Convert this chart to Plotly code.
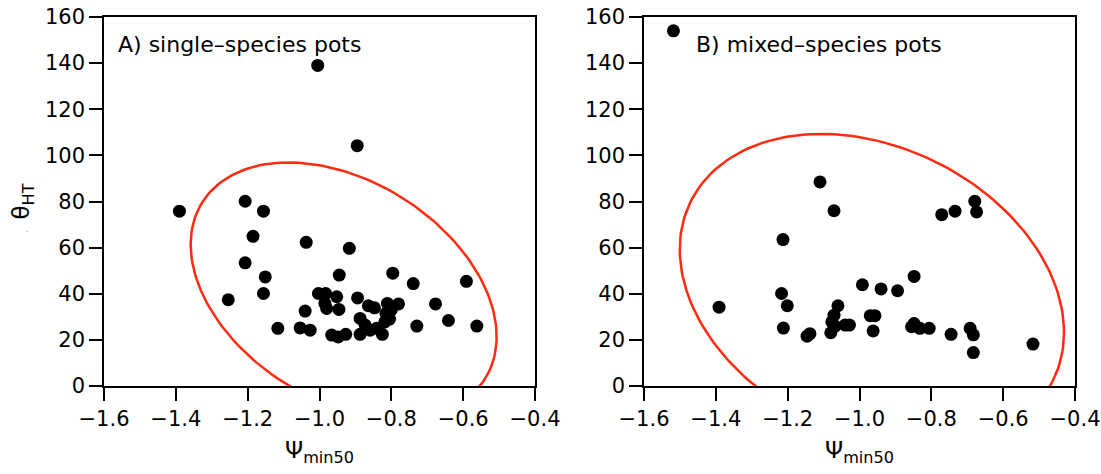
import numpy as np
import plotly.graph_objects as go
from plotly.subplots import make_subplots

# ---- data ----
single_psi = [-1.005, -0.895, -1.390, -1.207, -1.156, -1.185, -1.037, -0.917, -1.207, -1.151,
              -0.945, -0.796, -0.739, -0.591, -1.254, -1.156, -0.677, -0.641, -0.562, -0.729,
              -1.116, -1.054, -1.026, -1.003, -0.983, -0.952, -0.985, -0.980, -0.946, -1.040,
              -0.966, -0.948, -0.927, -0.894, -0.864, -0.847, -0.811, -0.780, -0.887, -0.873,
              -0.887, -0.859, -0.841, -0.825, -0.818, -0.805, -0.800, -0.815]
single_theta = [139.0, 104.2, 75.8, 80.1, 75.8, 64.9, 62.3, 59.7, 53.4, 47.3,
                48.1, 48.9, 44.4, 45.4, 37.4, 40.1, 35.6, 28.4, 26.0, 26.0,
                25.0, 25.2, 24.2, 40.1, 40.1, 38.7, 35.8, 33.6, 33.2, 32.5,
                22.1, 21.3, 22.4, 38.2, 34.8, 33.9, 35.8, 35.6, 29.3, 26.4,
                22.4, 24.2, 25.0, 22.4, 27.8, 29.0, 33.0, 31.5]

mixed_psi = [-1.518, -1.110, -1.071, -1.213, -0.771, -0.734, -0.679, -0.674, -0.848, -0.992,
             -0.940, -0.894, -1.217, -1.201, -1.391, -1.212, -1.146, -1.138, -1.080, -1.077,
             -1.071, -1.060, -1.068, -1.040, -1.028, -0.970, -0.957, -0.962, -0.855, -0.848,
             -0.832, -0.806, -0.745, -0.692, -0.683, -0.683, -0.517]
mixed_theta = [154.0, 88.5, 76.0, 63.5, 74.3, 75.8, 80.1, 75.5, 47.5, 43.9,
               42.1, 41.3, 40.1, 34.8, 34.2, 25.1, 21.6, 22.7, 23.1, 27.8,
               30.7, 34.8, 26.0, 26.4, 26.4, 30.5, 30.5, 23.9, 25.7, 27.1,
               25.0, 25.0, 22.4, 25.0, 22.2, 14.5, 18.2]

panel_titles = ["A) single–species pots", "B) mixed–species pots"]
x_ticks = [-1.6, -1.4, -1.2, -1.0, -0.8, -0.6, -0.4]
y_ticks = [0, 20, 40, 60, 80, 100, 120, 140, 160]
CHI2_95 = 5.991  # 95% density ellipse


def density_ellipse(x, y, n=200):
    x = np.asarray(x); y = np.asarray(y)
    mu = np.array([x.mean(), y.mean()])
    cov = np.cov(np.vstack([x, y]))
    vals, vecs = np.linalg.eigh(cov)
    t = np.linspace(0, 2 * np.pi, n)
    circ = np.vstack([np.cos(t), np.sin(t)])
    pts = vecs @ (np.sqrt(vals * CHI2_95)[:, None] * circ)
    return mu[0] + pts[0], mu[1] + pts[1]


W, H = 1101, 474
L, R, T, B = 104, 26, 17, 88
PW = W - L - R

fig = make_subplots(rows=1, cols=2)
FONT = "DejaVu Sans"
for col, (xs, ys) in enumerate([(single_psi, single_theta), (mixed_psi, mixed_theta)], start=1):
    ex, ey = density_ellipse(xs, ys)
    fig.add_trace(go.Scatter(x=ex, y=ey, mode="lines", line=dict(color="#ff2a10", width=2.5),
                             hoverinfo="skip", showlegend=False), row=1, col=col)
    fig.add_trace(go.Scatter(x=xs, y=ys, mode="markers",
                             marker=dict(color="black", size=13, line=dict(width=0)),
                             showlegend=False, cliponaxis=False), row=1, col=col)

axis_common = dict(showline=True, linecolor="black", linewidth=1.5, mirror=True,
                   ticks="outside", ticklen=13, tickwidth=1.5, tickcolor="black",
                   showgrid=False, zeroline=False, automargin=False,
                   tickfont=dict(family=FONT, size=21, color="black"))

for i, dom in enumerate([[0, (535 - L) / PW], [(644 - L) / PW, 1]], start=1):
    fig.update_xaxes(row=1, col=i, domain=dom, range=[-1.6, -0.4], tickvals=x_ticks,
                     tickformat=".1f",
                     title=dict(text="Ψ<sub>min50</sub>", font=dict(family=FONT, size=23, color="black"),
                                standoff=12),
                     **axis_common)
    fig.update_yaxes(row=1, col=i, domain=[0, 1], range=[0, 160],
                     tickvals=y_ticks, **axis_common)

fig.update_yaxes(row=1, col=1,
                 title=dict(text="θ<sub>HT</sub>", font=dict(family=FONT, size=23, color="black"),
                            standoff=9))

fig.add_annotation(xref="x domain", yref="y domain", x=0.027, y=0.925, xanchor="left",
                   yanchor="middle", text=panel_titles[0], showarrow=False,
                   font=dict(family=FONT, size=22, color="black"))
fig.add_annotation(xref="x2 domain", yref="y2 domain", x=0.116, y=0.925, xanchor="left",
                   yanchor="middle", text=panel_titles[1], showarrow=False,
                   font=dict(family=FONT, size=22, color="black"))
fig.add_annotation(xref="paper", yref="paper", x=(24 - L) / PW, y=(H - B - 229) / (H - T - B),
                   text=".", showarrow=False, font=dict(family=FONT, size=8, color="#888888"))

fig.update_layout(width=W, height=H, margin=dict(l=L, r=R, t=T, b=B, autoexpand=False),
                  paper_bgcolor="white", plot_bgcolor="white")
fig.write_html("out.html")
